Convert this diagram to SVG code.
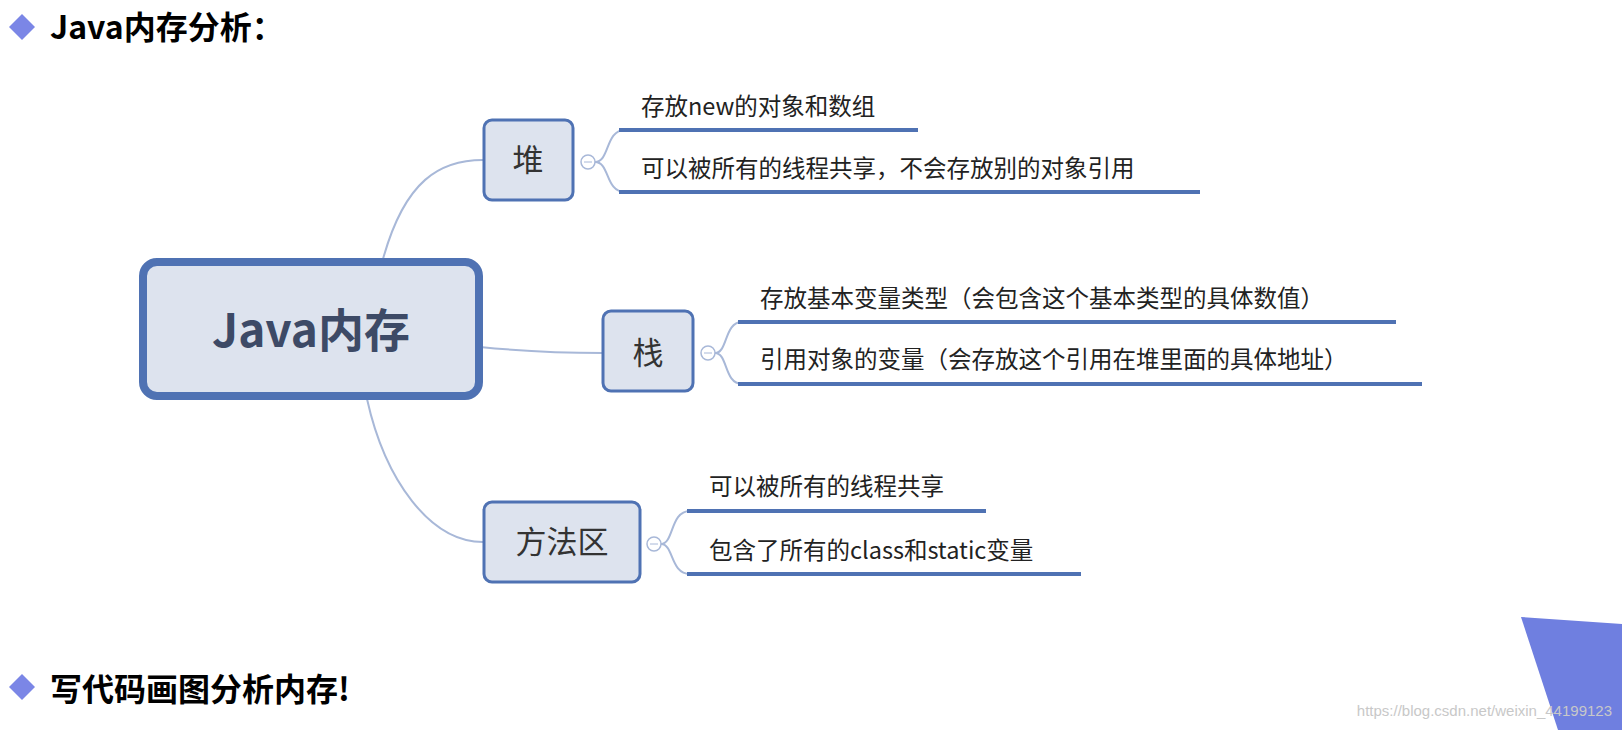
<svg xmlns="http://www.w3.org/2000/svg" width="1622" height="730" viewBox="0 0 1622 730">
<style>
.h{font-family:"Noto Sans CJK SC","Liberation Sans",sans-serif;font-weight:bold;font-size:32px;fill:#000}
.box{fill:#dde3ee;stroke:#4f72b3;stroke-width:3}
.nt{font-family:"Noto Sans CJK SC",sans-serif;font-size:31px;fill:#333;text-anchor:middle}
.lt{font-family:"Noto Sans CJK SC",sans-serif;font-size:23.5px;fill:#222}
.ul{stroke:#4f72b3;stroke-width:4}
.c{fill:none;stroke:#a8b8d8;stroke-width:2}
.circ{fill:#fff;stroke:#a8b8d8;stroke-width:1.5}
</style>
<rect width="1622" height="730" fill="#fff"/>
<polygon points="22,14 35,27 22,40 9,27" fill="#7b86e6"/>
<text class="h" x="50" y="39">Java内存分析：</text>
<polygon points="22,674 35,687 22,700 9,687" fill="#7b86e6"/>
<text class="h" x="50" y="701">写代码画图分析内存!</text>
<polygon points="1521,617 1622,624 1622,730 1558,730" fill="#6f7fe0"/>
<text x="1612" y="716" font-family="Liberation Sans, sans-serif" font-size="15" fill="#c8c8c8" text-anchor="end">https://blog.csdn.net/weixin_44199123</text>
<g id="connectors">
<path class="c" d="M383,259 C405,180 440,160 483,160"/>
<path class="c" d="M480,347 C530,352 560,353 603,353"/>
<path class="c" d="M367,399 C385,480 430,542 483,542"/>
<path class="c" d="M595,162 C610,162 605,130 625,130 M595,162 C610,162 605,192 625,192"/>
<path class="c" d="M715,353 C728,353 724,322 742,322 M715,353 C728,353 724,384 742,384"/>
<path class="c" d="M661,544 C674,544 670,511 690,511 M661,544 C674,544 670,574 690,574"/>
<circle class="circ" cx="588" cy="162" r="7"/><line x1="584" y1="162" x2="592" y2="162" stroke="#a8b8d8"/>
<circle class="circ" cx="708" cy="353" r="7"/><line x1="704" y1="353" x2="712" y2="353" stroke="#a8b8d8"/>
<circle class="circ" cx="654" cy="544" r="7"/><line x1="650" y1="544" x2="658" y2="544" stroke="#a8b8d8"/>
</g>
<g id="root"><rect x="143" y="262" width="336" height="134" rx="14" fill="#dde3ee" stroke="#4f72b3" stroke-width="8"/>
<text x="311" y="347" font-family="Noto Sans CJK SC, sans-serif" font-weight="bold" font-size="46" fill="#3d4a66" text-anchor="middle">Java内存</text></g>
<g id="heap"><rect class="box" x="484" y="120" width="89" height="80" rx="8"/><text class="nt" x="528" y="171">堆</text>
<line class="ul" x1="619" y1="130" x2="918" y2="130"/><text class="lt" x="641" y="115">存放new的对象和数组</text>
<line class="ul" x1="619" y1="192" x2="1200" y2="192"/><text class="lt" x="641" y="177">可以被所有的线程共享，不会存放别的对象引用</text></g>
<g id="stack"><rect class="box" x="603" y="311" width="90" height="80" rx="8"/><text class="nt" x="648" y="364">栈</text>
<line class="ul" x1="738" y1="322" x2="1396" y2="322"/><text class="lt" x="760" y="307">存放基本变量类型（会包含这个基本类型的具体数值）</text>
<line class="ul" x1="738" y1="384" x2="1422" y2="384"/><text class="lt" x="760" y="368">引用对象的变量（会存放这个引用在堆里面的具体地址）</text></g>
<g id="method"><rect class="box" x="484" y="502" width="156" height="80" rx="8"/><text class="nt" x="562" y="553">方法区</text>
<line class="ul" x1="687" y1="511" x2="986" y2="511"/><text class="lt" x="709" y="495">可以被所有的线程共享</text>
<line class="ul" x1="687" y1="574" x2="1081" y2="574"/><text class="lt" x="709" y="559">包含了所有的class和static变量</text></g>
</svg>
